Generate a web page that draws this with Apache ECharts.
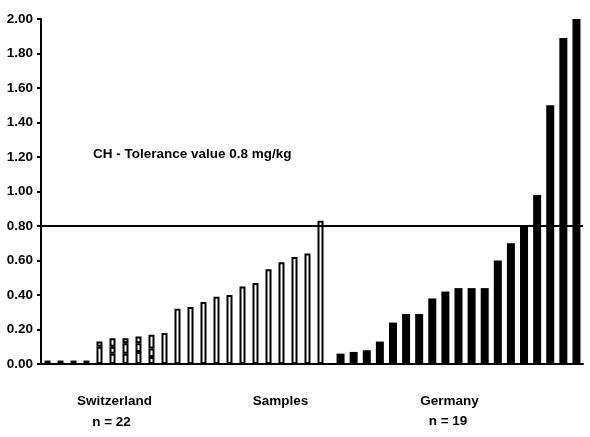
<!DOCTYPE html>
<html>
<head>
<meta charset="utf-8">
<script src="https://cdn.jsdelivr.net/npm/echarts@6/dist/echarts.min.js"></script>
<style>
  html, body { margin: 0; padding: 0; background: #fff; }
  #chart { width: 590px; height: 437px; }
</style>
</head>
<body>
<div id="chart"></div>
<script>
// Messwerte (mg/kg), sortiert
const swissValues = [0.02, 0.02, 0.02, 0.02, 0.13, 0.15, 0.15, 0.16, 0.17, 0.18, 0.32, 0.33, 0.36, 0.39, 0.40, 0.45, 0.47, 0.55, 0.59, 0.62, 0.64, 0.83]
// innere Teilstriche einiger CH-Balken
const swissMarkLow = [null, null, null, null, 0.10, 0.06, 0.06, 0.07, 0.04, null, null, null, null, null, null, null, null, null, null, null, null, null]
const swissMarkHigh = [null, null, null, null, null, 0.10, 0.12, 0.12, 0.09, null, null, null, null, null, null, null, null, null, null, null, null, null]
const germanValues = [0.06, 0.07, 0.08, 0.13, 0.24, 0.29, 0.29, 0.38, 0.42, 0.44, 0.44, 0.44, 0.60, 0.70, 0.80, 0.98, 1.50, 1.89, 2.00]
const tolerance = 0.8
const yTicks = { min: 0, max: 2, interval: 0.2 }

const swissCats = swissValues.map((v, i) => 'CH' + (i + 1)).concat([''])
const germanCats = germanValues.map((v, i) => 'D' + (i + 1))

const seg1 = swissValues.map((v, i) => swissMarkLow[i] != null ? swissMarkLow[i] : v)
const seg2 = swissValues.map((v, i) => swissMarkLow[i] != null ? (swissMarkHigh[i] != null ? swissMarkHigh[i] : v) - swissMarkLow[i] : '-')
const seg3 = swissValues.map((v, i) => swissMarkHigh[i] != null ? v - swissMarkHigh[i] : '-')

const font = 'bold 13.5px "Liberation Sans", Arial, sans-serif'
const whiteBar = { color: '#fff', borderColor: '#000', borderWidth: 2 }

const el = document.getElementById('chart')
const myChart = echarts.init(el)

const option = {
  animation: false,
  backgroundColor: '#fff',
  grid: [
    { left: 41, top: 19, width: 299, bottom: 73 },
    { left: 334, top: 19, width: 249, bottom: 73 }
  ],
  xAxis: [
    {
      gridIndex: 0,
      type: 'category',
      data: swissCats,
      axisLine: { lineStyle: { color: '#000', width: 2 } },
      axisTick: { show: false },
      axisLabel: { show: false }
    },
    {
      gridIndex: 1,
      type: 'category',
      data: germanCats,
      axisLine: { lineStyle: { color: '#000', width: 2 } },
      axisTick: { show: false },
      axisLabel: { show: false }
    }
  ],
  yAxis: [
    {
      gridIndex: 0,
      type: 'value',
      min: yTicks.min,
      max: yTicks.max,
      interval: yTicks.interval,
      axisLine: { show: true, lineStyle: { color: '#000', width: 2 } },
      axisTick: { show: true, length: 4, lineStyle: { color: '#000', width: 2 } },
      splitLine: { show: false },
      axisLabel: {
        margin: 8,
        color: '#000',
        fontFamily: '"Liberation Sans", Arial, sans-serif',
        fontWeight: 'bold',
        fontSize: 13.5,
        padding: [0, 0, 10, 0],
        formatter: v => v.toFixed(2)
      }
    },
    {
      gridIndex: 1,
      type: 'value',
      min: yTicks.min,
      max: yTicks.max,
      show: false
    }
  ],
  series: [
    {
      type: 'line',
      xAxisIndex: 0,
      yAxisIndex: 0,
      data: [],
      z: 1,
      markLine: {
        silent: true,
        symbol: 'none',
        label: { show: false },
        lineStyle: { color: '#000', width: 2, type: 'solid' },
        data: [{ yAxis: tolerance }]
      }
    },
    {
      type: 'line',
      xAxisIndex: 1,
      yAxisIndex: 1,
      data: [],
      z: 1,
      markLine: {
        silent: true,
        symbol: 'none',
        label: { show: false },
        lineStyle: { color: '#000', width: 2, type: 'solid' },
        data: [{ yAxis: tolerance }]
      }
    },
    { type: 'bar', xAxisIndex: 0, yAxisIndex: 0, stack: 'ch', barWidth: 6, z: 3, data: seg1, itemStyle: whiteBar },
    { type: 'bar', xAxisIndex: 0, yAxisIndex: 0, stack: 'ch', barWidth: 6, z: 3, data: seg2, itemStyle: whiteBar },
    { type: 'bar', xAxisIndex: 0, yAxisIndex: 0, stack: 'ch', barWidth: 6, z: 3, data: seg3, itemStyle: whiteBar },
    {
      type: 'bar',
      xAxisIndex: 1,
      yAxisIndex: 1,
      barWidth: 8,
      z: 3,
      data: germanValues,
      itemStyle: { color: '#000' }
    }
  ],
  graphic: [
    { type: 'text', left: 93, top: 147, style: { text: 'CH - Tolerance value 0.8 mg/kg', font: font, fill: '#000' } },
    { type: 'text', x: 114.5, y: 401, style: { text: 'Switzerland', font: font, fill: '#000', align: 'center', verticalAlign: 'middle' } },
    { type: 'text', x: 111.5, y: 422, style: { text: 'n = 22', font: font, fill: '#000', align: 'center', verticalAlign: 'middle' } },
    { type: 'text', x: 280.5, y: 401, style: { text: 'Samples', font: font, fill: '#000', align: 'center', verticalAlign: 'middle' } },
    { type: 'text', x: 449.5, y: 401, style: { text: 'Germany', font: font, fill: '#000', align: 'center', verticalAlign: 'middle' } },
    { type: 'text', x: 448, y: 421, style: { text: 'n = 19', font: font, fill: '#000', align: 'center', verticalAlign: 'middle' } }
  ]
}

myChart.setOption(option)
</script>
</body>
</html>
